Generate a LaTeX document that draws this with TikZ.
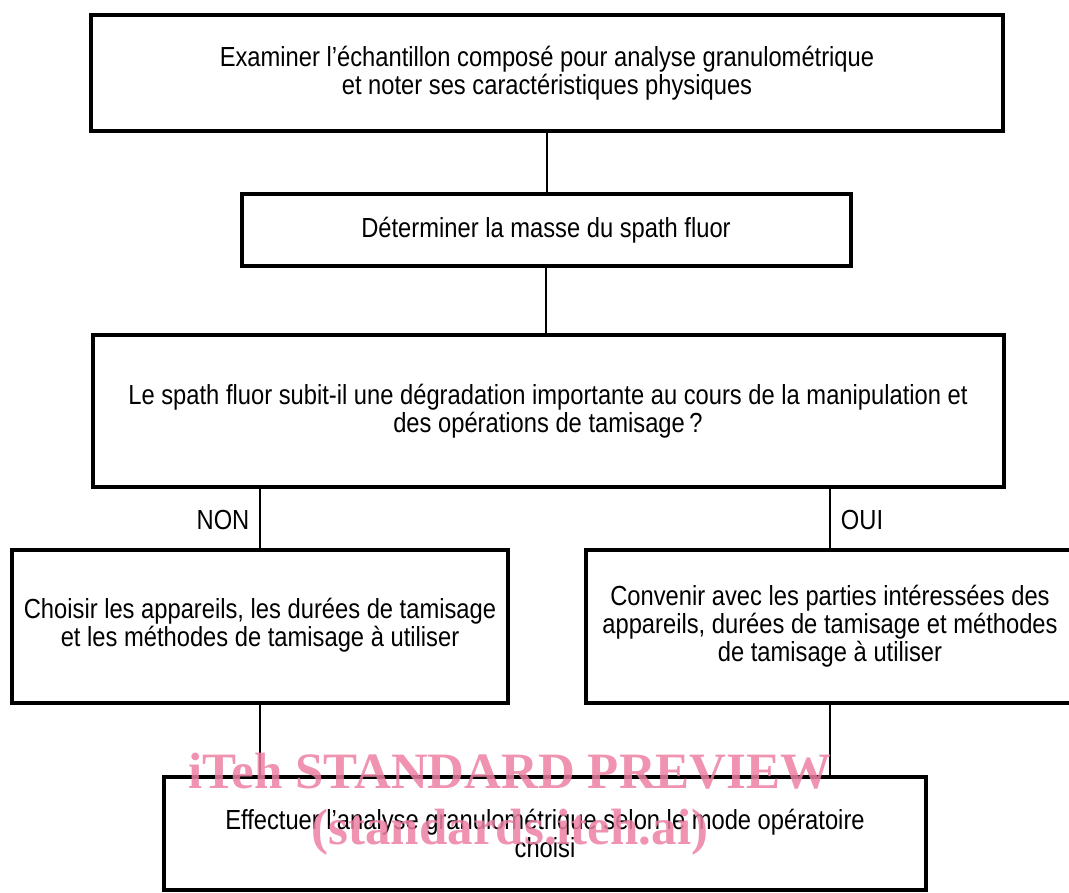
\documentclass[tikz,border=0pt]{standalone}
\usepackage{fontspec}
\setmainfont{Liberation Sans}[FakeStretch=0.86]
\newfontfamily\wmfont{Liberation Serif}
\definecolor{wmpink}{RGB}{236,128,163}
\begin{document}
\begin{tikzpicture}[x=1pt,y=-1pt,
  box/.style={draw=black, line width=4pt, rectangle, align=center,
    font=\fontsize{27.6}{28}\selectfont, inner sep=0pt},
  link/.style={draw=black, line width=1.8pt},
  lab/.style={font=\fontsize{27.6}{28}\selectfont},
  wm/.style={text=wmpink, opacity=0.85, font=\wmfont\bfseries\fontsize{51}{56}\selectfont}]
\useasboundingbox (0,0) rectangle (1069,893);
\begin{scope}
\clip (0,0) rectangle (1069,893);
\node[box, minimum width=912pt, minimum height=116pt] (b1) at (547,73)
  {Examiner l’échantillon composé pour analyse granulométrique\\et noter ses caractéristiques physiques};
\node[box, minimum width=609pt, minimum height=72pt] (b2) at (546,230)
  {Déterminer la masse du spath fluor};
\node[box, minimum width=911pt, minimum height=152pt] (b3) at (548,411)
  {Le spath fluor subit-il une dégradation importante au cours de la manipulation et\\des opérations de tamisage\,?};
\node[box, minimum width=496pt, minimum height=153pt] (b4) at (260,626.5)
  {\raisebox{6pt}{\begin{tabular}{@{}c@{}}Choisir les appareils, les durées de tamisage\\et les méthodes de tamisage à utiliser\end{tabular}}};
\node[box, minimum width=488pt, minimum height=153pt] (b5) at (830,626.5)
  {Convenir avec les parties intéressées des\\appareils, durées de tamisage et méthodes\\de tamisage à utiliser};
\node[box, minimum width=762pt, minimum height=113pt] (b6) at (545,833.5)
  {Effectuer l’analyse granulométrique selon le mode opératoire\\choisi};
\end{scope}
\draw[link] (b1.south) -- (b1.south |- b2.north);
\draw[link] (b2.south) -- (b2.south |- b3.north);
\draw[link] (b3.south -| b4.north) -- (b4.north);
\draw[link] (b3.south -| b5.north) -- (b5.north);
\draw[link] (b4.south) -- (b4.south |- b6.north);
\draw[link] (b5.south) -- (b5.south |- b6.north);
\node[lab] (non) at (223,520) {NON};
\node[lab] (oui) at (862,520) {OUI};
\node[wm] (wm1) at (510,771) {iTeh STANDARD PREVIEW};
\node[wm] (wm2) at (510,832) {(standards.iteh.ai)};
\end{tikzpicture}
\end{document}
